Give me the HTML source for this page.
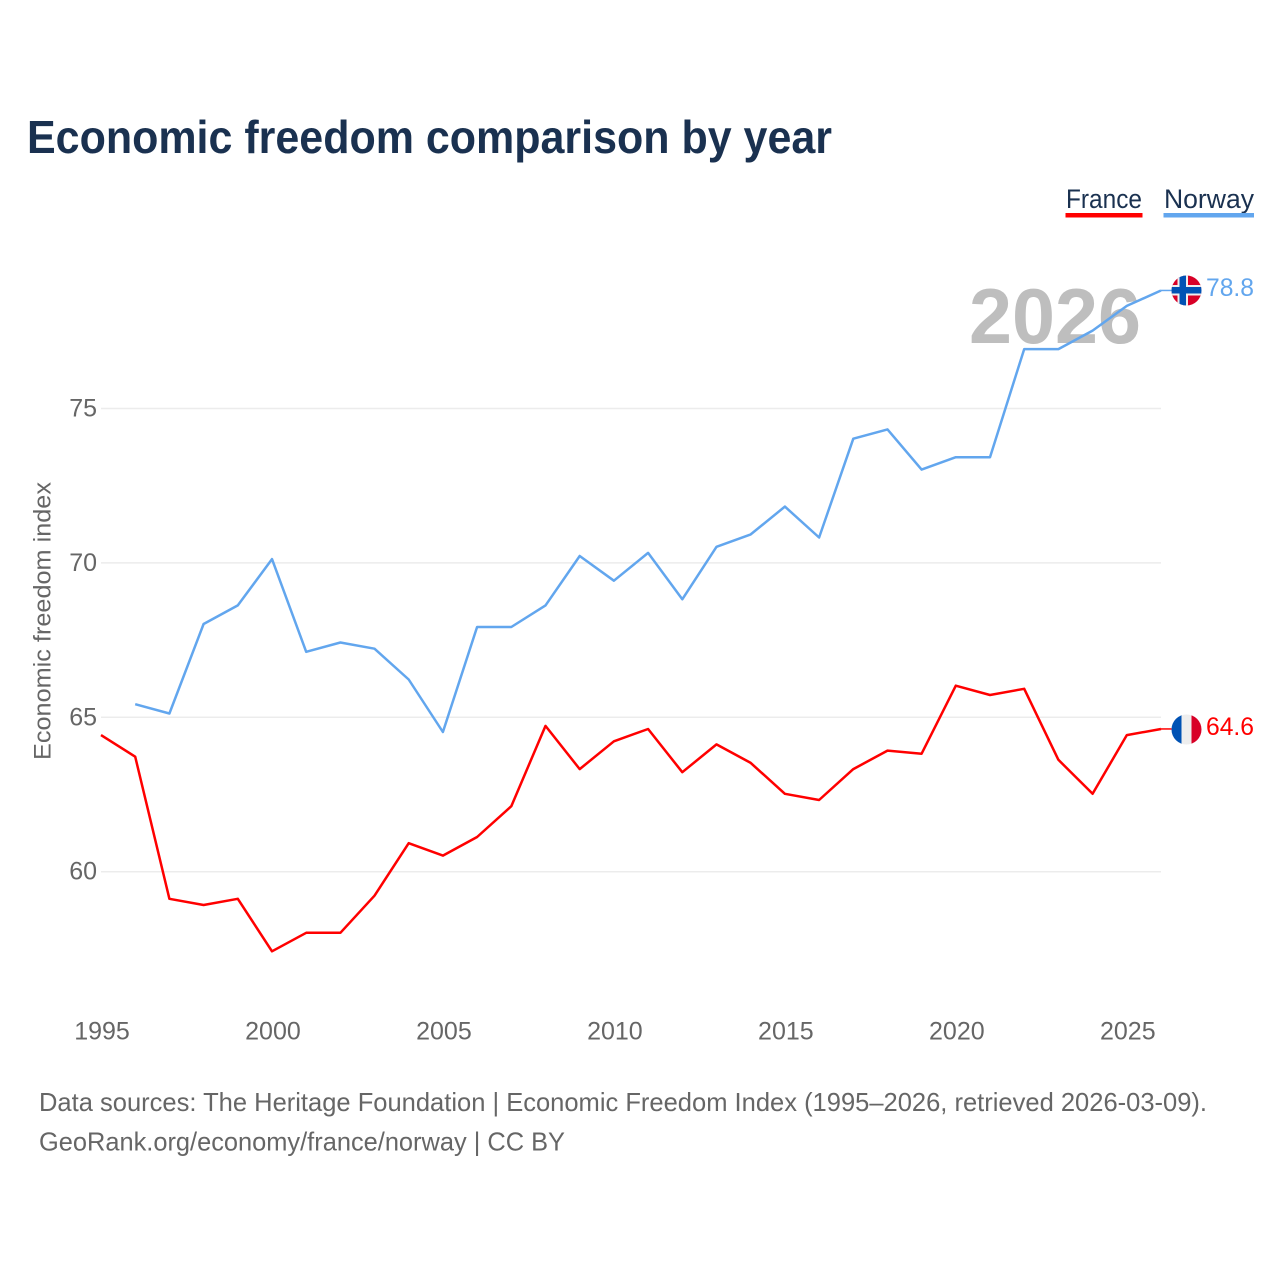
<!DOCTYPE html>
<html lang="en">
<head>
<meta charset="utf-8">
<title>Economic freedom comparison by year</title>
<style>
html,body{margin:0;padding:0;background:#fff}
svg{display:block;font-family:"Liberation Sans",sans-serif}
</style>
</head>
<body>
<svg id="chart" width="1280" height="1280" viewBox="0 0 1280 1280" xmlns="http://www.w3.org/2000/svg">
  <defs>
    <clipPath id="clip-no"><circle cx="1186.5" cy="290.5" r="15"/></clipPath>
    <clipPath id="clip-fr"><circle cx="1186.5" cy="729.5" r="15"/></clipPath>
  </defs>
  <rect width="1280" height="1280" fill="#fff"/>
  <text x="27" y="153" font-size="46" font-weight="700" fill="#1a3150" textLength="805" lengthAdjust="spacingAndGlyphs">Economic freedom comparison by year</text>

  <g id="grid"></g>
  <g id="yticks"></g>
  <g id="xticks"></g>

  <text transform="translate(50.5,760) rotate(-90)" font-size="24" fill="#666" textLength="278" lengthAdjust="spacingAndGlyphs">Economic freedom index</text>

  <text x="969" y="343" font-size="78" font-weight="700" fill="#bebebe" textLength="172" lengthAdjust="spacingAndGlyphs" style="mix-blend-mode:multiply">2026</text>

  <g id="series" transform="translate(-0.5,-0.7)"></g>

  <g>
    <text x="1066" y="208" font-size="27" fill="#1a3150" textLength="76" lengthAdjust="spacingAndGlyphs">France</text>
    <rect x="1065.5" y="213" width="77" height="4.5" fill="#ff0000"/>
  </g>
  <g>
    <text x="1164" y="208" font-size="27" fill="#1a3150" textLength="90" lengthAdjust="spacingAndGlyphs">Norway</text>
    <rect x="1163.5" y="213" width="90.5" height="4.5" fill="#62a6ee"/>
  </g>

  <g clip-path="url(#clip-no)">
    <rect x="1171" y="275" width="31" height="31" fill="#d80027"/>
    <rect x="1177.5" y="275" width="10.5" height="31" fill="#eee"/>
    <rect x="1171" y="285" width="31" height="10.5" fill="#eee"/>
    <rect x="1179.5" y="275" width="6.5" height="31" fill="#0052b4"/>
    <rect x="1171" y="287" width="31" height="6.5" fill="#0052b4"/>
  </g>
  <text id="label-no" x="1206" y="296" font-size="25" fill="#62a6ee" textLength="48" lengthAdjust="spacingAndGlyphs">78.8</text>

  <g clip-path="url(#clip-fr)">
    <rect x="1171" y="714" width="11" height="31" fill="#0052b4"/>
    <rect x="1181.5" y="714" width="10" height="31" fill="#eee"/>
    <rect x="1191.5" y="714" width="11" height="31" fill="#d80027"/>
  </g>
  <text id="label-fr" x="1206" y="735" font-size="25" fill="#ff0000" textLength="48" lengthAdjust="spacingAndGlyphs">64.6</text>

  <text x="39" y="1111" font-size="26" fill="#666" textLength="1168" lengthAdjust="spacingAndGlyphs">Data sources: The Heritage Foundation | Economic Freedom Index (1995–2026, retrieved 2026-03-09).</text>
  <text x="39" y="1150.5" font-size="26" fill="#666" textLength="526" lengthAdjust="spacingAndGlyphs">GeoRank.org/economy/france/norway | CC BY</text>
</svg>
<script>
const years = [1995,1996,1997,1998,1999,2000,2001,2002,2003,2004,2005,2006,2007,2008,2009,2010,2011,2012,2013,2014,2015,2016,2017,2018,2019,2020,2021,2022,2023,2024,2025,2026];
const franceValues = [64.4,63.7,59.1,58.9,59.1,57.4,58.0,58.0,59.2,60.9,60.5,61.1,62.1,64.7,63.3,64.2,64.6,63.2,64.1,63.5,62.5,62.3,63.3,63.9,63.8,66.0,65.7,65.9,63.6,62.5,64.4,64.6];
const norwayValues = [null,65.4,65.1,68.0,68.6,70.1,67.1,67.4,67.2,66.2,64.5,67.9,67.9,68.6,70.2,69.4,70.3,68.8,70.5,70.9,71.8,70.8,74.0,74.3,73.0,73.4,73.4,76.9,76.9,77.5,78.3,78.8];
const yTickValues = [60,65,70,75];
const xTickValues = [1995,2000,2005,2010,2015,2020,2025];

const SVGNS = 'http://www.w3.org/2000/svg';
function xScale(year){ return 101.5 + (year - 1995) * (1161.5 - 101.5) / 31; }
function yScale(v){ return 871.7 - (v - 60) * (871.7 - 408.5) / 15; }

const grid = document.getElementById('grid');
const yticks = document.getElementById('yticks');
const xticks = document.getElementById('xticks');
const series = document.getElementById('series');

yTickValues.forEach(function(v){
  const line = document.createElementNS(SVGNS,'line');
  
  
  line.setAttribute('x1', 101);
  line.setAttribute('x2', 1161);
  line.setAttribute('y1', yScale(v));
  line.setAttribute('y2', yScale(v));
  line.setAttribute('stroke', '#ececec');
  line.setAttribute('stroke-width', '1.5');
  grid.appendChild(line);
  const t = document.createElementNS(SVGNS,'text');
  
  
  t.setAttribute('x', 97);
  t.setAttribute('y', yScale(v) + 8);
  t.setAttribute('text-anchor', 'end');
  t.setAttribute('font-size', '25');
  t.setAttribute('fill', '#666');
  t.textContent = v;
  yticks.appendChild(t);
});

xTickValues.forEach(function(y){
  const t = document.createElementNS(SVGNS,'text');
  
  
  t.setAttribute('x', xScale(y) + 0.5);
  t.setAttribute('y', 1039.5);
  t.setAttribute('text-anchor', 'middle');
  t.setAttribute('font-size', '25');
  t.setAttribute('fill', '#666');
  t.textContent = y;
  xticks.appendChild(t);
});

function seriesPoints(values){
  let pts = [];
  values.forEach(function(v,i){
    if (v !== null) pts.push(xScale(years[i]).toFixed(1) + ',' + yScale(v).toFixed(1));
  });
  return pts.join(' ');
}

const norwayLine = document.createElementNS(SVGNS,'polyline');


norwayLine.setAttribute('points', seriesPoints(norwayValues));
norwayLine.setAttribute('fill', 'none');
norwayLine.setAttribute('stroke', '#62a6ee');
norwayLine.setAttribute('stroke-width', '2.5');
norwayLine.setAttribute('stroke-linejoin', 'round');
series.appendChild(norwayLine);

const franceLine = document.createElementNS(SVGNS,'polyline');


franceLine.setAttribute('points', seriesPoints(franceValues));
franceLine.setAttribute('fill', 'none');
franceLine.setAttribute('stroke', '#ff0000');
franceLine.setAttribute('stroke-width', '2.5');
franceLine.setAttribute('stroke-linejoin', 'round');
series.appendChild(franceLine);

const lastIndex = years.length - 1;
const norwayStub = document.createElementNS(SVGNS,'line');


norwayStub.setAttribute('x1', xScale(years[lastIndex]));
norwayStub.setAttribute('x2', 1172);
norwayStub.setAttribute('y1', yScale(norwayValues[lastIndex]));
norwayStub.setAttribute('y2', yScale(norwayValues[lastIndex]));
norwayStub.setAttribute('stroke', '#62a6ee');
norwayStub.setAttribute('stroke-width', '1.5');
series.appendChild(norwayStub);

const franceStub = document.createElementNS(SVGNS,'line');


franceStub.setAttribute('x1', xScale(years[lastIndex]));
franceStub.setAttribute('x2', 1172);
franceStub.setAttribute('y1', yScale(franceValues[lastIndex]));
franceStub.setAttribute('y2', yScale(franceValues[lastIndex]));
franceStub.setAttribute('stroke', '#ff0000');
franceStub.setAttribute('stroke-width', '1.5');
series.appendChild(franceStub);
</script>
</body>
</html>
